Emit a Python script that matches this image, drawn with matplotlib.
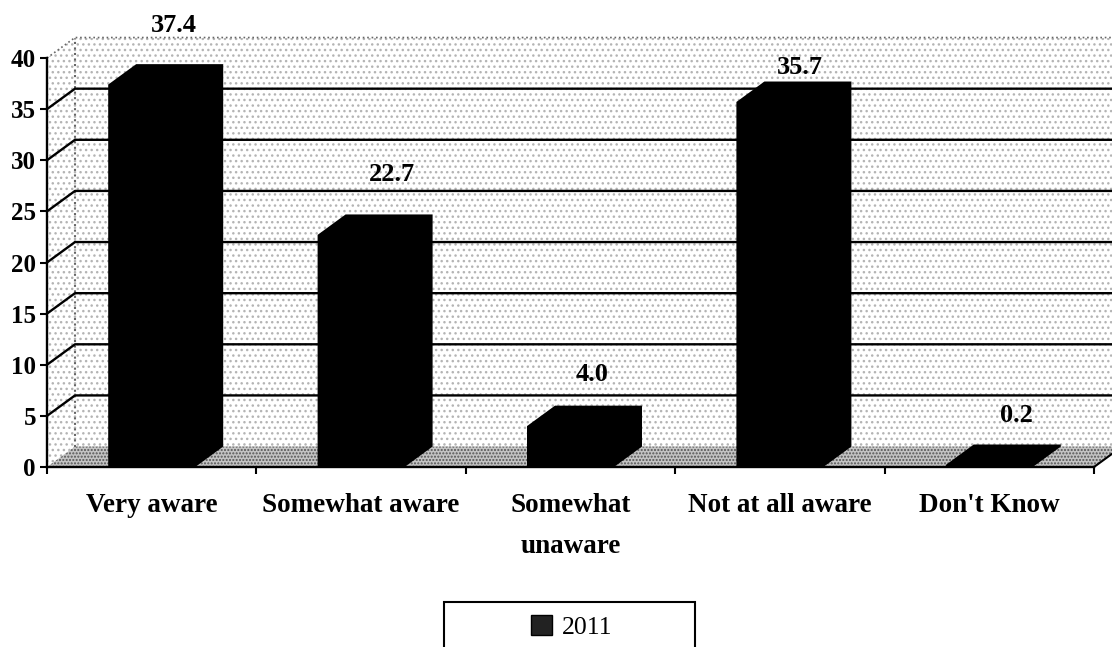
#!/usr/bin/env python3
import matplotlib
matplotlib.use('Agg')
import matplotlib.pyplot as plt
from matplotlib.patches import Patch, Rectangle

categories = ['Very aware', 'Somewhat aware', 'Somewhat\nunaware', 'Not at all aware', "Don't Know"]
values = [37.4, 22.7, 4.0, 35.7, 0.2]
value_labels = ['37.4', '22.7', '4.0', '35.7', '0.2']
y_ticks = [0, 5, 10, 15, 20, 25, 30, 35, 40]
series_name = '2011'

W, H = 1112, 647
DX = 28 / 209.4   # depth of the fake 3d box, x data units
DY = 2.0          # same, y data units
BAR_W = 87 / 209.4

# label nudges in pixels, from the back top corner of each bar
label_dx = [-6, 3, -6, -8, -1]
label_dy = [39, 40, 31, 14, 29]

plt.rcParams['font.family'] = ['Liberation Serif', 'DejaVu Serif']

fig = plt.figure(figsize=(W / 100, H / 100), dpi=100)
ax = fig.add_axes([47 / W, 1 - 467 / H, (1094 - 47) / W, (467 - 58) / H])
ax.set_xlim(0, 5)
ax.set_ylim(0, 40)

# walls and floor
wall = dict(facecolor='white', edgecolor='#b4b4b4', hatch='...', linewidth=0, clip_on=False, zorder=1)
ax.fill([DX, 5.2, 5.2, DX], [DY, DY, 40 + DY, 40 + DY], **wall)
ax.fill([0, DX, DX, 0], [0, DY, 40 + DY, 40], **wall)
ax.fill([0, DX, 5 + DX, 5], [0, DY, DY, 0], facecolor='#c4c4c4', edgecolor='#555555',
        hatch='.....', linewidth=0, clip_on=False, zorder=2)
ax.plot([0, DX, 5.2], [40, 40 + DY, 40 + DY], color='#666666', lw=1.2, ls=':', clip_on=False, zorder=3)
ax.plot([DX, DX], [DY, 40 + DY], color='#666666', lw=1.5, ls=':', clip_on=False, zorder=3)
ax.plot([5, 5 + DX], [0, DY], color='black', lw=1.5, clip_on=False, zorder=3)

# grid lines run up the left wall then along the back
for t in y_ticks[1:-1]:
    ax.plot([0, DX, 5.2], [t, t + DY, t + DY], color='black', lw=1.7, clip_on=False, zorder=3)

for i, v in enumerate(values):
    left = i + 0.5 - BAR_W / 2
    right = left + BAR_W
    # one outline for front, top and side, everything is solid black
    ax.fill([left, left, left + DX, right + DX, right + DX, right],
            [0, v, v + DY, v + DY, DY, 0], color='black', lw=0, zorder=4)
    ax.annotate(value_labels[i], (i + 0.5 + DX, v + DY), xytext=(label_dx[i] * 0.72, label_dy[i] * 0.72),
                textcoords='offset points', ha='center', va='center', fontsize=19, fontweight='bold',
                annotation_clip=False, zorder=6)

ax.set_yticks(y_ticks)
ax.set_xticks(range(6))
ax.set_xticklabels([])
ax.set_xticks([i + 0.5 for i in range(5)], minor=True)
ax.set_xticklabels(categories, minor=True, fontsize=19.5, fontweight='bold', linespacing=1.8)
ax.tick_params(axis='x', which='minor', length=0, pad=19)
ax.tick_params(axis='x', which='major', length=5, width=1.5, direction='out')
ax.tick_params(axis='y', length=5, width=1.5, direction='out', labelsize=18, pad=3)
for lab in ax.get_yticklabels():
    lab.set_fontweight('bold')
for s in ['top', 'right']:
    ax.spines[s].set_visible(False)
for s in ['left', 'bottom']:
    ax.spines[s].set_linewidth(1.7)
    ax.spines[s].set_zorder(5)
ax.patch.set_alpha(0)

# legend box runs off the bottom edge
fig.add_artist(Rectangle((444 / W, -5 / H), 251 / W, 50 / H, transform=fig.transFigure,
                         facecolor='white', edgecolor='black', lw=1.5))
fig.legend(handles=[Patch(facecolor='#222222', edgecolor='black', label=series_name)],
           loc='center', bbox_to_anchor=(572 / W, 1 - 627 / H), frameon=False, fontsize=18.5,
           handlelength=0.8, handleheight=0.8, handletextpad=0.4)

fig.savefig('out.png', dpi=100, facecolor='white')
